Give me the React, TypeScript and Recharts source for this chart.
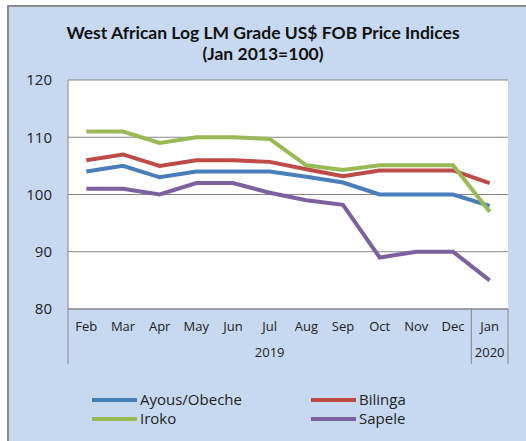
import React from 'react';
import { LineChart, Line, XAxis, YAxis, CartesianGrid, Legend } from 'recharts';

const months = ['Feb', 'Mar', 'Apr', 'May', 'Jun', 'Jul', 'Aug', 'Sep', 'Oct', 'Nov', 'Dec', 'Jan'];
const years = ['2019', '2019', '2019', '2019', '2019', '2019', '2019', '2019', '2019', '2019', '2019', '2020'];
const ayous = [104, 105, 103, 104, 104, 104, 103.1, 102.1, 100, 100, 100, 98];
const bilinga = [106, 107, 105, 106, 106, 105.7, 104.4, 103.2, 104.2, 104.2, 104.2, 102];
const iroko = [111, 111, 109, 110, 110, 109.7, 105.1, 104.3, 105.1, 105.1, 105.1, 97];
const sapele = [101, 101, 100, 102, 102, 100.3, 99, 98.2, 89, 90, 90, 85];
const yTicks = [80, 90, 100, 110, 120];
const titleLines = ['West African Log LM Grade US$ FOB Price Indices', '(Jan 2013=100)'];

const series = [
    { key: 'ayous', name: 'Ayous/Obeche', color: '#4A7EBB' },
    { key: 'bilinga', name: 'Bilinga', color: '#BE4B48' },
    { key: 'iroko', name: 'Iroko', color: '#98B954' },
    { key: 'sapele', name: 'Sapele', color: '#7D60A0' },
];

const data = months.map((m, i) => ({
    month: m,
    year: years[i],
    ayous: ayous[i],
    bilinga: bilinga[i],
    iroko: iroko[i],
    sapele: sapele[i],
}));

const W = 526;
const H = 441;
const YAXIS_W = 68;
const RIGHT = 18;
const BAND = (W - YAXIS_W - RIGHT) / months.length;
const FONT = '"Open Sans", sans-serif';
const GRID = '#868686';

function MonthTick(props: any) {
    const { x, y, payload, index } = props;
    const half = BAND / 2;
    const top = y - 8;
    const year = years[index];
    // year label sits under the middle of its group
    const group = years.map((v, i) => (v === year ? i : -1)).filter((i) => i >= 0);
    const mid = (group[0] + group[group.length - 1]) / 2;
    const showYear = Math.abs(index - mid) < 0.01 || (group.length % 2 === 0 && index === group[group.length / 2]);
    const yearDx = group.length % 2 === 0 ? -half : 0;
    const first = index === 0 || years[index - 1] !== year;
    const last = index === years.length - 1;
    return (
        <g>
            <text x={x} y={top + 19} textAnchor="middle" dominantBaseline="middle" fontSize={13} fontFamily={FONT} fill="#222">
                {payload.value}
            </text>
            {showYear && (
                <text x={x + yearDx} y={top + 45} textAnchor="middle" dominantBaseline="middle" fontSize={13} fontFamily={FONT} fill="#222">
                    {year}
                </text>
            )}
            {first && <line x1={x - half} x2={x - half} y1={top} y2={top + 55} stroke={GRID} />}
            {last && <line x1={x + half} x2={x + half} y1={top} y2={top + 55} stroke={GRID} />}
        </g>
    );
}

function renderLegend() {
    return (
        <div style={{ position: 'relative', width: W, height: 40, fontFamily: FONT, fontSize: 15, color: '#222' }}>
            {series.map((s, i) => (
                <div
                    key={s.key}
                    style={{
                        position: 'absolute',
                        left: i % 2 === 0 ? 92 : 311,
                        top: Math.floor(i / 2) * 19,
                        display: 'flex',
                        alignItems: 'center',
                        height: 19,
                    }}
                >
                    <span style={{ display: 'inline-block', width: 45, height: 4, background: s.color, marginRight: 3 }} />
                    <span style={{ lineHeight: '19px' }}>{s.name}</span>
                </div>
            ))}
        </div>
    );
}

export default function App() {
    return (
        <div style={{ position: 'absolute', left: 0, top: 0, width: W, height: H, background: '#fff', overflow: 'hidden' }}>
            <div
                style={{
                    position: 'absolute',
                    left: 7,
                    top: 5,
                    right: 0,
                    bottom: 0,
                    background: '#C6D9F1',
                    borderLeft: '2px solid #8C8C8C',
                    borderTop: '2px solid #8C8C8C',
                }}
            />
            {titleLines.map((t, i) => (
                <div
                    key={i}
                    style={{
                        position: 'absolute',
                        left: 0,
                        top: 22 + i * 21,
                        width: W,
                        height: 21,
                        textAlign: 'center',
                        fontFamily: 'Lato, sans-serif',
                        fontWeight: 'bold',
                        fontSize: 17.5,
                        lineHeight: '21px',
                        color: '#111',
                    }}
                >
                    {t}
                </div>
            ))}
            <div style={{ position: 'absolute', left: 0, top: 0 }}>
                <LineChart width={W} height={H} data={data} margin={{ top: 80, right: RIGHT, left: 0, bottom: 132 - 56 }}>
                    <CartesianGrid vertical={false} stroke={GRID} fill="#fff" />
                    <XAxis
                        dataKey="month"
                        scale="band"
                        height={56}
                        interval={0}
                        tickLine={false}
                        axisLine={{ stroke: GRID }}
                        tick={<MonthTick />}
                    />
                    <YAxis
                        domain={[80, 120]}
                        ticks={yTicks}
                        width={YAXIS_W}
                        tickLine={false}
                        tickMargin={10}
                        axisLine={{ stroke: GRID }}
                        tick={{ fill: '#222', fontSize: 15, fontFamily: FONT }}
                    />
                    <YAxis yAxisId="right" orientation="right" width={0} tick={false} tickLine={false} axisLine={{ stroke: GRID }} />
                    {series.map((s) => (
                        <Line
                            key={s.key}
                            type="linear"
                            dataKey={s.key}
                            name={s.name}
                            stroke={s.color}
                            strokeWidth={4}
                            dot={false}
                            isAnimationActive={false}
                        />
                    ))}
                    <Legend
                        layout="horizontal"
                        verticalAlign="middle"
                        align="center"
                        content={renderLegend}
                        wrapperStyle={{ left: 0, top: 390, width: W }}
                    />
                </LineChart>
            </div>
        </div>
    );
}
